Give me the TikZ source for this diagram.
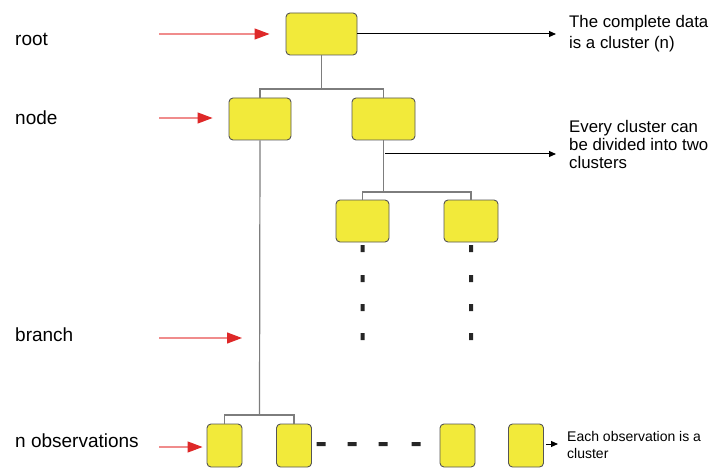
\documentclass[tikz,border=0pt]{standalone}
\usepackage{fontspec}
\setmainfont{Liberation Sans}
\usetikzlibrary{arrows.meta}
\definecolor{boxyellow}{RGB}{242,234,58}
\definecolor{boxedge}{RGB}{85,85,85}
\definecolor{linkgray}{RGB}{125,125,125}
\definecolor{pointred}{RGB}{222,40,40}
\definecolor{shaftred}{RGB}{240,140,140}
\tikzset{
  clusterbox/.style={draw=boxedge, fill=boxyellow, rounded corners=4pt, line width=0.9pt, inner sep=0pt},
  link/.style={draw=linkgray, line width=1.2pt},
  pointer/.style={draw=shaftred, line width=1.2pt, -{Triangle[length=15pt,width=11pt,color=pointred]}},
  note/.style={draw=black, line width=1pt, -{Triangle[length=7pt,width=6pt]}},
  sidelabel/.style={font=\fontsize{19}{23}\selectfont, anchor=base west, inner sep=0pt},
  remark/.style={align=left, anchor=north west, inner sep=0pt},
}
\begin{document}
\begin{tikzpicture}[x=1pt, y=-1pt]
    \useasboundingbox (0,0) rectangle (715,468);

    % Cluster boxes
    \node[clusterbox, minimum width=71pt, minimum height=42pt] (root) at (321.5,34) {};
    \node[clusterbox, minimum width=62pt, minimum height=42pt] (nl) at (260,119) {};
    \node[clusterbox, minimum width=63pt, minimum height=42pt] (nr) at (383.5,119) {};
    \node[clusterbox, minimum width=53pt, minimum height=42pt] (cl) at (362.5,221) {};
    \node[clusterbox, minimum width=54pt, minimum height=42pt] (cr) at (471,221) {};

    % Observation boxes
    \node[clusterbox, minimum width=35pt, minimum height=43pt] (obsa) at (224.5,445.5) {};
    \node[clusterbox, minimum width=35pt, minimum height=43pt] (obsb) at (294,445.5) {};
    \node[clusterbox, minimum width=35pt, minimum height=43pt] (obsc) at (457.5,445.5) {};
    \node[clusterbox, minimum width=35pt, minimum height=43pt] (obsd) at (526,445.5) {};

    % Branches
    \coordinate (splitroot) at (321.5,89);
    \coordinate (splitnr) at (383.5,192);
    \coordinate (splitnl) at (259.5,415);
    \draw[link] (root.south) -- (splitroot);
    \draw[link] (nl.north) |- (splitroot) -| (nr.north);
    \draw[link] (nr.south) -- (splitnr);
    \draw[link] (cl.north) |- (splitnr) -| (cr.north);
    \draw[link] (nl.south) -- (splitnl);
    \draw[link] (obsa.north) |- (splitnl) -| (obsb.north);

    % Dotted continuation
    \fill[black!85] (360.5,245) rectangle ++(4,7) (360.5,275) rectangle ++(4,7)
                    (360.5,304) rectangle ++(4,7) (360.5,333) rectangle ++(4,7);
    \fill[black!85] (469,245) rectangle ++(4,7) (469,275) rectangle ++(4,7)
                    (469,304) rectangle ++(4,7) (469,333) rectangle ++(4,7);
    \fill[black!85] (316.5,442) rectangle ++(9,4) (347.5,442) rectangle ++(9,4)
                    (378.5,442) rectangle ++(9,4) (411.5,442) rectangle ++(9,4);

    % Side labels
    \node[sidelabel] (lroot) at (15,46) {root};
    \node[sidelabel] (lnode) at (15,125) {node};
    \node[sidelabel] (lbranch) at (15,341) {branch};
    \node[sidelabel] (lobs) at (15,447) {n observations};

    % Red pointers
    \coordinate (proot) at (159,34);
    \coordinate (pnode) at (159,118);
    \coordinate (pbranch) at (159,338);
    \coordinate (pobs) at (159,447);
    \draw[pointer] (proot) -- ([xshift=-16pt]root.west |- proot);
    \draw[pointer] (pnode) -- ([xshift=-16pt]nl.west |- pnode);
    \draw[pointer] (pbranch) -- ([xshift=-18pt]nl.south |- pbranch);
    \draw[pointer] (pobs) -- ([xshift=-4pt]obsa.west |- pobs);

    % Remarks
    \node[remark, font=\fontsize{16.8}{21}\selectfont] (tdata) at (569,15)
        {The complete data\\is a cluster (n)};
    \node[remark, font=\fontsize{16.8}{18}\selectfont] (tsplit) at (569,120)
        {Every cluster can\\be divided into two\\clusters};
    \node[remark, font=\fontsize{14}{17}\selectfont] (tobs) at (567,431)
        {Each observation is a\\cluster};
    \coordinate (asplit) at (385,154);
    \draw[note] (root.east) -- ([xshift=-13pt]tdata.west |- root.east);
    \draw[note] (asplit) -- ([xshift=-13pt]tsplit.west |- asplit);
    \draw[note] ([xshift=2pt]obsd.east |- 0,444) -- ([xshift=-9pt]tobs.west |- 0,444);
\end{tikzpicture}
\end{document}
